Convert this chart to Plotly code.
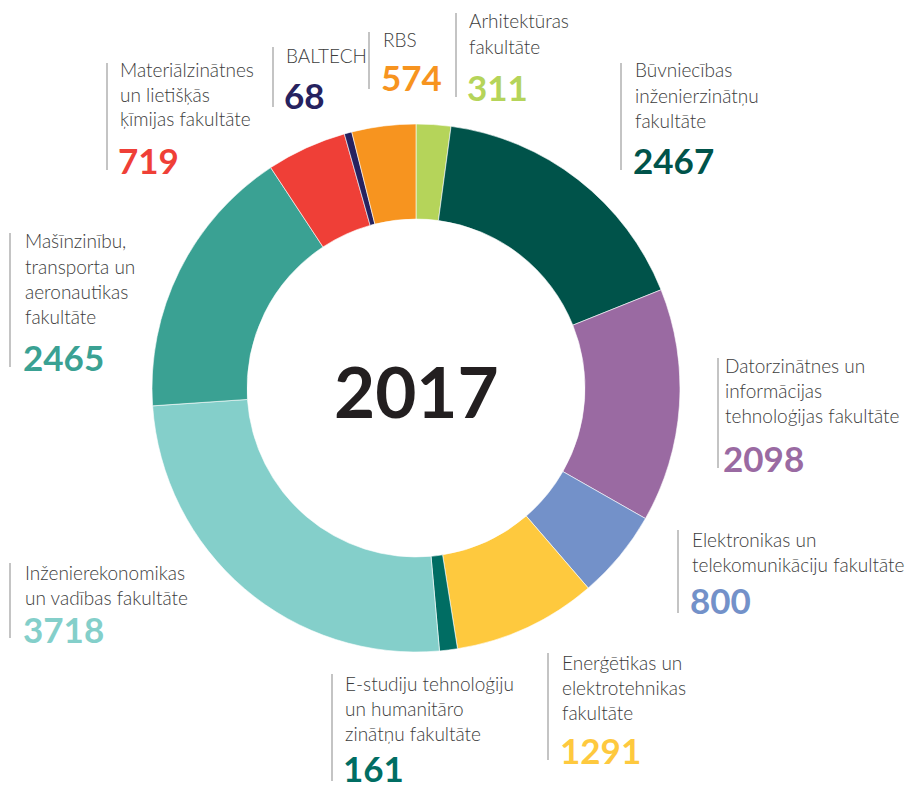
import plotly.graph_objects as go

# ---- data ----
faculties = [
    "Arhitektūras fakultāte",
    "Būvniecības inženierzinātņu fakultāte",
    "Datorzinātnes un informācijas tehnoloģijas fakultāte",
    "Elektronikas un telekomunikāciju fakultāte",
    "Enerģētikas un elektrotehnikas fakultāte",
    "E-studiju tehnoloģiju un humanitāro zinātņu fakultāte",
    "Inženierekonomikas un vadības fakultāte",
    "Mašīnzinību, transporta un aeronautikas fakultāte",
    "Materiālzinātnes un lietišķās ķīmijas fakultāte",
    "BALTECH",
    "RBS",
]
label_lines = [
    ["Arhitektūras", "fakultāte"],
    ["Būvniecības", "inženierzinātņu", "fakultāte"],
    ["Datorzinātnes un", "informācijas", "tehnoloģijas fakultāte"],
    ["Elektronikas un", "telekomunikāciju fakultāte"],
    ["Enerģētikas un", "elektrotehnikas", "fakultāte"],
    ["E-studiju tehnoloģiju", "un humanitāro", "zinātņu fakultāte"],
    ["Inženierekonomikas", "un vadības fakultāte"],
    ["Mašīnzinību,", "transporta un", "aeronautikas", "fakultāte"],
    ["Materiālzinātnes", "un lietišķās", "ķīmijas fakultāte"],
    ["BALTECH"],
    ["RBS"],
]
students = [311, 2467, 2098, 800, 1291, 161, 3718, 2465, 719, 68, 574]
colors = ["#b5d45a", "#00534a", "#9a6aa2", "#7391c9", "#fec93e", "#006d63",
          "#84cfca", "#3aa193", "#ef3f37", "#26225f", "#f7941f"]
year = "2017"

# ---- layout (window-pixel positions of each label block) ----
OFF = 8                      # default page body margin
W, H = 917 - OFF, 791 - OFF  # figure size so that it fills the window
# line_x, text_x, first cap top, number top, line y0, line y1
label_pos = [
    (456, 467, 14, 75, 13, 97),
    (621, 633, 63, 148, 63, 170),
    (718, 723, 358, 446, 358, 468),
    (678, 690, 532, 588, 530, 613),
    (548, 560, 655, 738, 653, 760),
    (332, 343, 676, 756, 674, 781),
    (10, 23, 565, 617, 563, 638),
    (10, 23, 234, 345, 233, 367),
    (107, 118, 62, 148, 63, 170),
    (273, 284, 48, 83, 47, 107),
    (369, 381, 33, 65, 32, 89),
]

cx, cy, R = 416, 388, 264

def px(x):
    return (x - OFF) / W

def py(y):
    return 1 - (y - OFF) / H

fig = go.Figure(go.Pie(
    labels=faculties,
    values=students,
    marker=dict(colors=colors, line=dict(color="white", width=0.6)),
    hole=0.64,
    sort=False,
    direction="clockwise",
    rotation=0,
    textinfo="none",
    hoverinfo="label+value",
    domain=dict(x=[px(cx - R), px(cx + R)], y=[py(cy + R), py(cy - R)]),
    showlegend=False,
))

annotations = []
shapes = []
TEXT_FONT = "Lato"
LINE_STEP = 25
for lines, val, col, pos in zip(label_lines, students, colors, label_pos):
    lx, tx, cap_top, num_top, ly0, ly1 = pos
    for i, ln in enumerate(lines):
        annotations.append(dict(
            x=px(tx), y=py(cap_top + 7 + i * LINE_STEP), xref="paper", yref="paper",
            xanchor="left", yanchor="middle", showarrow=False, text=ln,
            font=dict(family=TEXT_FONT, size=19, color="#3c3c3c", weight=300),
        ))
    annotations.append(dict(
        x=px(tx - 1), y=py(num_top + 12), xref="paper", yref="paper",
        xanchor="left", yanchor="middle", showarrow=False, text=f"<b>{val}</b>",
        font=dict(family=TEXT_FONT, size=35, color=col),
        borderpad=0,
    ))
    shapes.append(dict(
        type="line", xref="paper", yref="paper",
        x0=px(lx), x1=px(lx), y0=py(ly0), y1=py(ly1),
        line=dict(color="#c4c4c4", width=2),
    ))

annotations.append(dict(
    x=px(cx), y=py(cy + 2), xref="paper", yref="paper",
    xanchor="center", yanchor="middle", showarrow=False, text=f"<b>{year}</b>",
    font=dict(family=TEXT_FONT, size=71, color="#231f20"),
))

fig.update_layout(
    width=W, height=H,
    margin=dict(l=0, r=0, t=0, b=0),
    paper_bgcolor="white", plot_bgcolor="white",
    annotations=annotations, shapes=shapes,
)

fig.write_html("out.html")
